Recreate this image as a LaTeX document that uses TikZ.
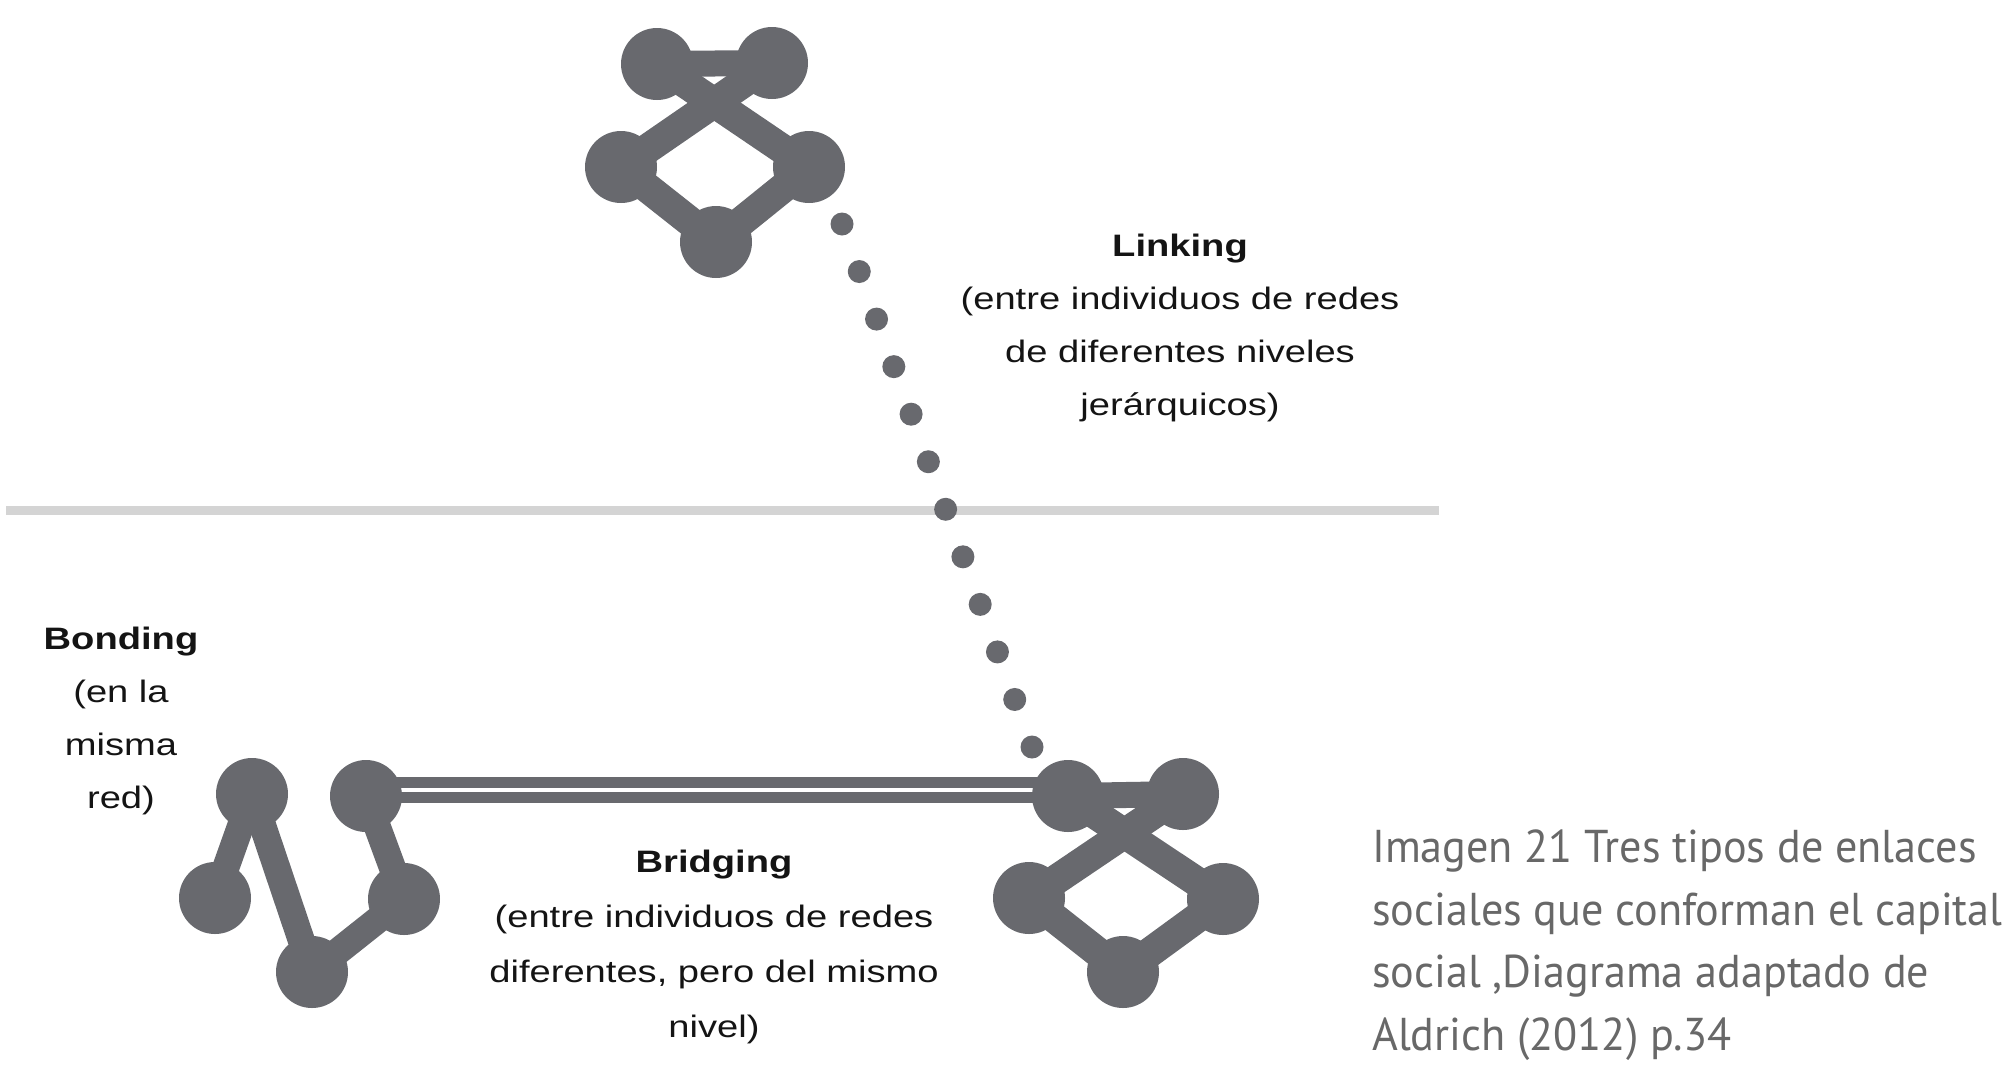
\documentclass[tikz,border=0pt]{standalone}
\usepackage{fontspec}
\usepackage{graphicx}
\setmainfont{Liberation Sans}
\newfontfamily\capfont{PT Sans}
\usetikzlibrary{calc,backgrounds}
\definecolor{netgray}{RGB}{104,105,110}
\definecolor{rulegray}{RGB}{212,212,212}
\definecolor{labblack}{RGB}{20,20,20}
\definecolor{capgray}{RGB}{104,104,104}
\newcommand{\widetxt}[1]{\scalebox{1.23}[1]{#1}}
\newcommand{\narrowtxt}[1]{\scalebox{0.96}[1]{#1}}
\tikzset{
  netnode/.style={circle, fill=netgray, minimum size=72pt, inner sep=0pt},
  netedge/.style={draw=netgray, line width=30pt},
  tinydot/.style={fill=netgray},
  lab/.style={align=center, inner sep=0pt, anchor=north, text=labblack, font=\fontsize{31}{53}\selectfont},
  capline/.style={anchor=base west, inner sep=0pt, text=capgray, font=\capfont\fontsize{46}{63}\selectfont}
}
\begin{document}
\begin{tikzpicture}[x=1pt,y=1pt]
\useasboundingbox (0,0) rectangle (2015,-1066);
% top network
\node[netnode] (t1) at (657,-64) {};
\node[netnode] (t2) at (772,-63) {};
\node[netnode] (t3) at (621,-167) {};
\node[netnode] (t4) at (809,-167) {};
\node[netnode] (t5) at (716,-242) {};
% bottom-left network
\node[netnode] (b1) at (252,-794) {};
\node[netnode] (b2) at (366,-796) {};
\node[netnode] (b3) at (215,-898) {};
\node[netnode] (b4) at (404,-899) {};
\node[netnode] (b5) at (312,-972) {};
% bottom-right network
\node[netnode] (r1) at (1068,-796) {};
\node[netnode] (r2) at (1183,-794) {};
\node[netnode] (r3) at (1029,-898) {};
\node[netnode] (r4) at (1223,-899) {};
\node[netnode] (r5) at (1123,-972) {};
% dotted link end points
\coordinate (dA) at (842,-224);
\coordinate (dB) at (1032,-747);
\coordinate (hl1) at (6,-510);
\coordinate (hl2) at (1439,-510);
\begin{scope}[on background layer]
  \draw[rulegray, line width=9pt] (hl1) -- (hl2);
  \draw[netedge, line width=26pt] (t1.center) -- (t2.center);
  \draw[netedge] (t1.center) -- (t4.center);
  \draw[netedge] (t2.center) -- (t3.center);
  \draw[netedge] (t3.center) -- (t5.center);
  \draw[netedge] (t4.center) -- (t5.center);
  \draw[netedge, line width=27pt] (b1.center) -- (b3.center);
  \draw[netedge, line width=27pt] (b1.center) -- (b5.center);
  \draw[netedge, line width=27pt] (b5.center) -- (b4.center);
  \draw[netedge, line width=27pt] (b4.center) -- (b2.center);
  \draw[netedge, line width=26pt] (r1.center) -- (r2.center);
  \draw[netedge] (r1.center) -- (r4.center);
  \draw[netedge] (r2.center) -- (r3.center);
  \draw[netedge] (r3.center) -- (r5.center);
  \draw[netedge] (r4.center) -- (r5.center);
  \draw[netgray, line width=26pt] ([yshift=6pt]b2.center) -- ([yshift=6pt]r1.center);
  \draw[white, line width=4pt] ([yshift=6pt]b2.center) -- ([yshift=6pt]r1.center);
\end{scope}
\foreach \i in {0,...,11} \fill[tinydot] ($(dA)!\i/11!(dB)$) circle (11.5pt);
% labels
\node[lab] (linking) at (1180,-234) {\widetxt{\textbf{Linking}}\\ \widetxt{(entre individuos de redes}\\ \widetxt{de diferentes niveles}\\ \widetxt{jerárquicos)}};
\node[lab] (bonding) at (121,-627) {\widetxt{\textbf{Bonding}}\\ \widetxt{(en la}\\ \widetxt{misma}\\ \widetxt{red)}};
\node[lab, font=\fontsize{31}{55}\selectfont] (bridging) at (714,-850) {\widetxt{\textbf{Bridging}}\\ \widetxt{(entre individuos de redes}\\ \widetxt{diferentes, pero del mismo}\\ \widetxt{nivel)}};
% caption
\node[capline] (cap1) at (1372,-862) {\narrowtxt{Imagen 21 Tres tipos de enlaces}};
\node[capline] (cap2) at (1372,-925) {\narrowtxt{sociales que conforman el capital}};
\node[capline] (cap3) at (1372,-987) {\narrowtxt{social ,Diagrama adaptado de}};
\node[capline] (cap4) at (1372,-1050) {\narrowtxt{Aldrich (2012) p.34}};
\end{tikzpicture}
\end{document}
